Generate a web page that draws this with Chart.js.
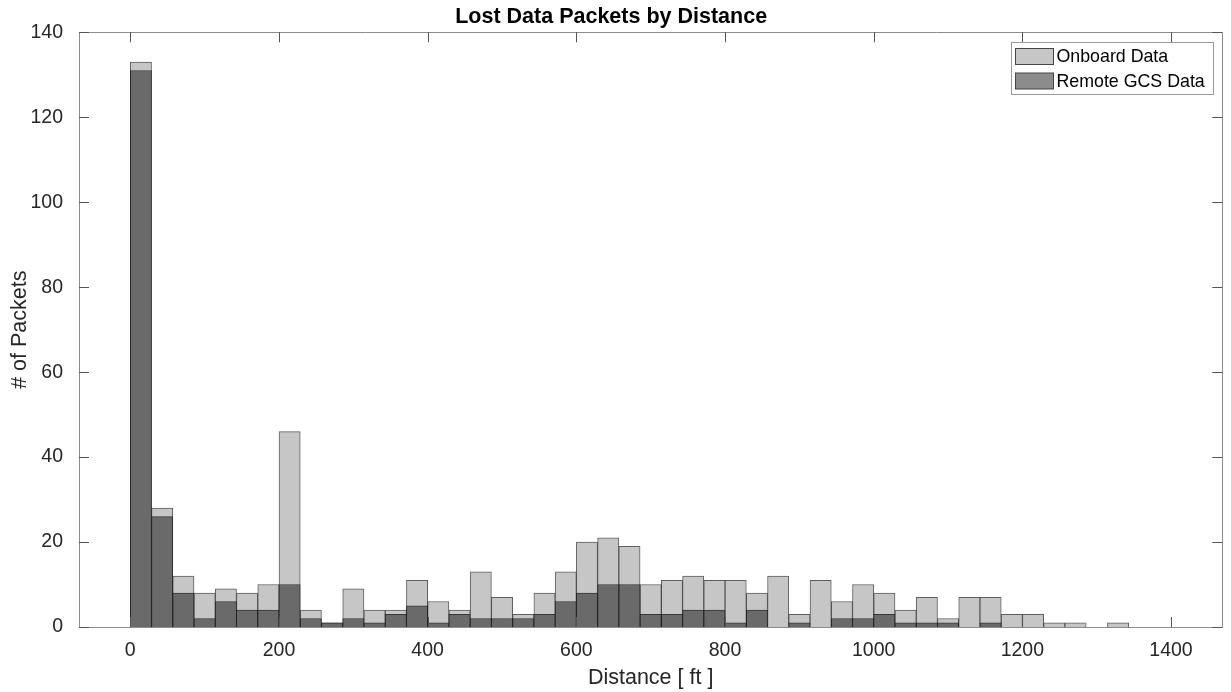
<!DOCTYPE html>
<html>
<head>
<meta charset="utf-8">
<script src="https://cdn.jsdelivr.net/npm/chart.js@4.4.1/dist/chart.umd.min.js"></script>
<style>
  html, body { margin: 0; padding: 0; background: #fff; }
  #wrap { width: 1231px; height: 692px; }
</style>
</head>
<body>
<div id="wrap"><canvas id="hist-canvas"></canvas></div>
<script>
'use strict';
// histogram bins: start at 0 ft, fixed width
var binWidth = 28.575;
var xTicks = [0, 200, 400, 600, 800, 1000, 1200, 1400];
var yTicks = [0, 20, 40, 60, 80, 100, 120, 140];

// packet counts per bin
var onboardCounts = [133, 28, 12, 8, 9, 8, 10, 46, 4, 1, 9, 4, 4, 11, 6, 4, 13, 7, 3, 8,
  13, 20, 21, 19, 10, 11, 12, 11, 11, 8, 12, 3, 11, 6, 10, 8, 4, 7, 2, 7, 7, 3, 3, 1, 1, 0, 1];
var remoteCounts = [131, 26, 8, 2, 6, 4, 4, 10, 2, 1, 2, 1, 3, 5, 1, 3, 2, 2, 2, 3,
  6, 8, 10, 10, 3, 3, 4, 4, 1, 4, 0, 1, 0, 2, 2, 3, 1, 1, 1, 0, 1, 0, 0, 0, 0, 0, 0];

var FONT = "'Liberation Sans', Arial, Helvetica, sans-serif";

function toPoints(counts) {
  return counts.map(function(c, i) {
    return { x: (i + 0.5) * binWidth, y: c };
  });
}

// MATLAB style box with inward tick marks
var boxTicks = {
  id: 'boxTicks',
  afterDatasetsDraw: function(chart) {
    var ctx = chart.ctx, a = chart.chartArea;
    var x = chart.scales.x, y = chart.scales.y;
    ctx.save();
    ctx.strokeStyle = '#8c8c8c';
    ctx.lineWidth = 1;
    ctx.beginPath();
    ctx.rect(Math.round(a.left) + 0.5, Math.round(a.top) + 0.5,
      Math.round(a.right - a.left), Math.round(a.bottom - a.top));
    ctx.stroke();
    ctx.strokeStyle = '#555';
    ctx.beginPath();
    x.ticks.forEach(function(t) {
      var px = Math.round(x.getPixelForValue(t.value)) + 0.5;
      ctx.moveTo(px, a.bottom); ctx.lineTo(px, a.bottom - 10);
      ctx.moveTo(px, a.top); ctx.lineTo(px, a.top + 10);
    });
    y.ticks.forEach(function(t) {
      var py = Math.round(y.getPixelForValue(t.value)) + 0.5;
      ctx.moveTo(a.left, py); ctx.lineTo(a.left + 10, py);
      ctx.moveTo(a.right, py); ctx.lineTo(a.right - 10, py);
    });
    ctx.stroke();
    ctx.restore();
  }
};

// legend box inside the upper right corner
var boxLegend = {
  id: 'boxLegend',
  afterDraw: function(chart, args, opts) {
    var ctx = chart.ctx, a = chart.chartArea;
    var w = 202, h = 52;
    var left = Math.round(a.right - 9 - w) + 0.5, top = Math.round(a.top + 10) + 0.5;
    ctx.save();
    ctx.fillStyle = '#fff';
    ctx.strokeStyle = '#999';
    ctx.lineWidth = 1;
    ctx.fillRect(left, top, w, h);
    ctx.strokeRect(left, top, w, h);
    ctx.font = '17.8px ' + FONT;
    ctx.textBaseline = 'middle';
    chart.data.datasets.forEach(function(ds, i) {
      var rowY = top + 14 + i * 24.5;
      ctx.fillStyle = opts.swatches[i];
      ctx.strokeStyle = '#444';
      ctx.fillRect(left + 4, rowY - 8, 38, 16);
      ctx.strokeRect(left + 4, rowY - 8, 38, 16);
      ctx.fillStyle = '#000';
      ctx.fillText(ds.label, left + 45, rowY + 1);
    });
    ctx.restore();
  }
};

var config = {
  type: 'bar',
  data: {
    datasets: [
      {
        label: 'Onboard Data',
        data: toPoints(onboardCounts),
        backgroundColor: '#c6c6c6',
        borderColor: 'rgba(40,40,40,0.75)',
        borderWidth: 1,
        order: 2
      },
      {
        label: 'Remote GCS Data',
        data: toPoints(remoteCounts),
        backgroundColor: '#6a6a6a',
        borderColor: 'rgba(30,30,30,0.85)',
        borderWidth: 1,
        order: 1
      }
    ]
  },
  options: {
    responsive: true,
    maintainAspectRatio: false,
    animation: false,
    grouped: false,
    barPercentage: 1,
    categoryPercentage: 1,
    layout: { padding: { left: 0, right: 8.7, top: 0, bottom: 0 } },
    plugins: {
      legend: { display: false },
      tooltip: { enabled: false },
      title: {
        display: true,
        text: 'Lost Data Packets by Distance',
        color: '#000',
        font: { family: FONT, size: 21.5, weight: 'bold' },
        padding: { top: 4, bottom: 2.5 }
      },
      boxLegend: { swatches: ['#c6c6c6', '#8c8c8c'] }
    },
    scales: {
      x: {
        type: 'linear',
        offset: false,
        min: -69,
        max: 1469,
        grid: { display: false, offset: false },
        border: { display: false },
        afterBuildTicks: function(scale) {
          scale.ticks = xTicks.map(function(v) { return { value: v }; });
        },
        afterFit: function(scale) { scale.height = 65; },
        ticks: {
          color: '#262626',
          font: { family: FONT, size: 19.5 },
          padding: 4,
          maxRotation: 0,
          callback: function(v) { return String(v); }
        },
        title: {
          display: true,
          text: 'Distance [ ft ]',
          color: '#262626',
          font: { family: FONT, size: 21.5 },
          padding: { top: 0, bottom: 1 }
        }
      },
      y: {
        min: 0,
        max: 140,
        grid: { display: false },
        border: { display: false },
        afterBuildTicks: function(scale) {
          scale.ticks = yTicks.map(function(v) { return { value: v }; });
        },
        afterFit: function(scale) { scale.width = 79; },
        ticks: {
          color: '#262626',
          font: { family: FONT, size: 19.5 },
          padding: 8,
          callback: function(v) { return String(v); }
        },
        title: {
          display: true,
          text: '# of Packets',
          color: '#262626',
          font: { family: FONT, size: 21.5 },
          padding: { top: 7, bottom: 0 }
        }
      }
    }
  },
  plugins: [boxTicks, boxLegend]
};

window.chart = new Chart(document.getElementById('hist-canvas'), config);
</script>
</body>
</html>
